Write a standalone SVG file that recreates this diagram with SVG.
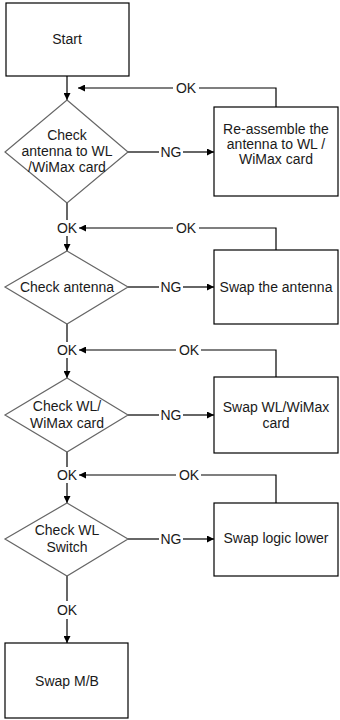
<svg xmlns="http://www.w3.org/2000/svg" width="340" height="720" viewBox="0 0 340 720">
<defs>
<marker id="ah" viewBox="0 0 10 10" refX="10" refY="5" markerWidth="8" markerHeight="7" markerUnits="userSpaceOnUse" orient="auto">
<path d="M0,0 L10,5 L0,10 Z" fill="#000"/>
</marker>
</defs>
<style>
text{font-family:"Liberation Sans",Arial,sans-serif;font-size:14px;fill:#1a1a1a;text-anchor:middle;dominant-baseline:central}
.box{fill:#fff;stroke:#000;stroke-width:1.2}
.dia{fill:#fff;stroke:#666;stroke-width:1.2}
.ln{fill:none;stroke:#000;stroke-width:1.2}
.arr{fill:none;stroke:#000;stroke-width:1.2;marker-end:url(#ah)}
</style>
<rect width="340" height="720" fill="#fff"/>
<g id="connectors">
<!-- start to diamond1 -->
<path class="arr" d="M67,76 V100"/>
<!-- feedback 1 -->
<path class="ln" d="M276,107 V88 H199"/>
<path class="arr" d="M173,88 H78"/>
<text x="186" y="88">OK</text>
<!-- NG 1 -->
<path class="ln" d="M128,152 H159"/>
<path class="arr" d="M183,152 H214"/>
<text x="171" y="152">NG</text>
<!-- diamond1 down -->
<path class="ln" d="M67,203 V220"/>
<text x="67" y="228">OK</text>
<path class="arr" d="M67,236 V251"/>
<!-- feedback 2 -->
<path class="ln" d="M276,250 V228 H199"/>
<path class="arr" d="M173,228 H79"/>
<text x="186" y="228">OK</text>
<!-- NG 2 -->
<path class="ln" d="M128,287 H159"/>
<path class="arr" d="M183,287 H214"/>
<text x="171" y="287">NG</text>
<!-- diamond2 down -->
<path class="ln" d="M67,324 V342"/>
<text x="67" y="350">OK</text>
<path class="arr" d="M67,358 V378"/>
<!-- feedback 3 -->
<path class="ln" d="M276,377 V350 H201"/>
<path class="arr" d="M176,350 H79"/>
<text x="189" y="350">OK</text>
<!-- NG 3 -->
<path class="ln" d="M128,415 H159"/>
<path class="arr" d="M183,415 H214"/>
<text x="171" y="415">NG</text>
<!-- diamond3 down -->
<path class="ln" d="M67,452 V467"/>
<text x="67" y="475">OK</text>
<path class="arr" d="M67,483 V503"/>
<!-- feedback 4 -->
<path class="ln" d="M276,503 V475 H201"/>
<path class="arr" d="M176,475 H79"/>
<text x="189" y="475">OK</text>
<!-- NG 4 -->
<path class="ln" d="M128,539 H159"/>
<path class="arr" d="M183,539 H214"/>
<text x="171" y="539">NG</text>
<!-- diamond4 down -->
<path class="ln" d="M67,576 V601"/>
<text x="67" y="610">OK</text>
<path class="arr" d="M67,619 V643"/>
</g>
<g id="start">
<rect class="box" x="6" y="3" width="123" height="73"/>
<text x="67" y="39">Start</text>
</g>
<g id="check1">
<polygon class="dia" points="67,100 128,152 67,203 5,152"/>
<text x="67" y="135">Check</text>
<text x="67" y="151">antenna to WL</text>
<text x="67" y="167">/WiMax card</text>
</g>
<g id="reassemble">
<rect class="box" x="214" y="107" width="124" height="89"/>
<text x="276" y="129">Re-assemble the</text>
<text x="276" y="144">antenna to WL /</text>
<text x="276" y="159">WiMax card</text>
</g>
<g id="check2">
<polygon class="dia" points="67,251 128,287 67,324 5,287"/>
<text x="67" y="287">Check antenna</text>
</g>
<g id="swapantenna">
<rect class="box" x="214" y="250" width="124" height="74"/>
<text x="276" y="287">Swap the antenna</text>
</g>
<g id="check3">
<polygon class="dia" points="67,378 128,415 67,452 5,415"/>
<text x="67" y="406">Check WL/</text>
<text x="67" y="423">WiMax card</text>
</g>
<g id="swapcard">
<rect class="box" x="214" y="377" width="124" height="76"/>
<text x="276" y="407">Swap WL/WiMax</text>
<text x="276" y="423">card</text>
</g>
<g id="check4">
<polygon class="dia" points="67,503 128,539 67,576 5,539"/>
<text x="67" y="530">Check WL</text>
<text x="67" y="547">Switch</text>
</g>
<g id="swaplogic">
<rect class="box" x="214" y="503" width="124" height="73"/>
<text x="276" y="538">Swap logic lower</text>
</g>
<g id="swapmb">
<rect class="box" x="5" y="643" width="123" height="75"/>
<text x="67" y="681">Swap M/B</text>
</g>
</svg>
